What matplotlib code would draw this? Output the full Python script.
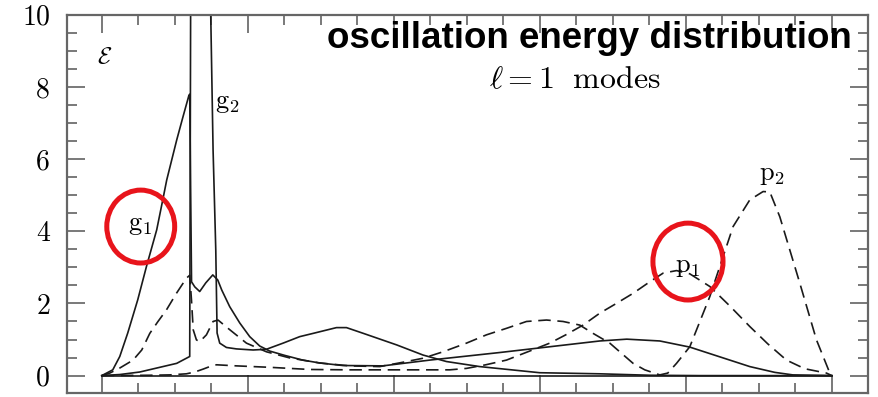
import matplotlib
matplotlib.use("Agg")
import matplotlib.pyplot as plt
from matplotlib.patches import Ellipse
from matplotlib.ticker import MultipleLocator

plt.rcParams['mathtext.fontset'] = 'cm'

# energy density curves, radius in units of R
g1_x = [0, 0.0151, 0.0247, 0.0356, 0.0493, 0.0612, 0.0753, 0.0836, 0.0890,
        0.1027, 0.1110, 0.1192, 0.1205, 0.1230, 0.1274, 0.1342, 0.1425,
        0.1521, 0.1589, 0.1644, 0.1753, 0.1890, 0.2027, 0.2164, 0.2301,
        0.2507, 0.2753, 0.2986, 0.3301, 0.3849, 0.4493, 0.5041, 0.5452,
        0.6137, 0.6822, 0.7192, 0.7644, 0.8055, 0.8466, 0.8877, 0.9219,
        0.9466, 1.0]
g1_e = [0, 0.16, 0.53, 1.18, 2.10, 3.02, 4.04, 4.87, 5.42,
        6.53, 7.15, 7.75, 7.80, 2.60, 2.46, 2.33, 2.57,
        2.79, 2.65, 2.37, 1.91, 1.46, 1.08, 0.82, 0.68,
        0.56, 0.43, 0.35, 0.28, 0.27, 0.43, 0.55, 0.64,
        0.80, 0.96, 1.01, 0.96, 0.79, 0.52, 0.25, 0.09,
        0.02, 0]

g2_x = [0, 0.0247, 0.0521, 0.0795, 0.1027, 0.1205, 0.1220, 0.1480, 0.1493,
        0.1525, 0.1562, 0.1580, 0.1616, 0.1708, 0.1845, 0.2073, 0.2256,
        0.2484, 0.2712, 0.2895, 0.3215, 0.3352, 0.3584, 0.4041, 0.4401,
        0.4722, 0.5178, 0.6000, 0.6822, 0.7507, 0.8192, 1.0]
g2_e = [0, 0.03, 0.10, 0.23, 0.34, 0.53, 12.0, 12.0, 10.0,
        6.25, 3.48, 1.18, 0.90, 0.78, 0.74, 0.71, 0.73,
        0.90, 1.08, 1.17, 1.33, 1.33, 1.17, 0.85, 0.57,
        0.39, 0.25, 0.08, 0.05, 0.01, 0, 0]

p2_x = [0, 0.011, 0.0247, 0.0429, 0.0548, 0.0658, 0.0767, 0.0886, 0.1023,
        0.1160, 0.1205, 0.1229, 0.1253, 0.1297, 0.1342, 0.1434, 0.1525,
        0.1593, 0.1730, 0.1982, 0.2256, 0.2575, 0.2986, 0.3397, 0.3808,
        0.4151, 0.4397, 0.4675, 0.4996, 0.5270, 0.5544, 0.5818, 0.6092,
        0.6319, 0.6548, 0.6730, 0.6959, 0.7278, 0.7438, 0.7644, 0.7753,
        0.7873, 0.8055, 0.8329, 0.8648, 0.8877, 0.9059, 0.9151, 0.9288,
        0.9562, 0.9790, 0.9973, 1.0]
p2_e = [0, 0.07, 0.21, 0.43, 0.71, 1.17, 1.49, 1.82, 2.28,
        2.70, 2.78, 2.10, 1.27, 0.99, 0.94, 1.13, 1.50,
        1.54, 1.31, 0.90, 0.66, 0.49, 0.35, 0.27, 0.25,
        0.38, 0.48, 0.66, 0.90, 1.13, 1.31, 1.50, 1.54,
        1.50, 1.40, 1.17, 0.90, 0.34, 0.16, 0.02, 0.07,
        0.34, 0.80, 2.19, 4.13, 4.87, 5.10, 5.09, 4.40,
        2.56, 0.99, 0.07, 0]

p1_x = [0, 0.0658, 0.0932, 0.1160, 0.1274, 0.1388, 0.1479, 0.1571, 0.1845,
        0.2301, 0.2849, 0.3397, 0.4082, 0.4767, 0.4996, 0.5260, 0.5544,
        0.5836, 0.6137, 0.6356, 0.6593, 0.6822, 0.7041, 0.7278, 0.7507,
        0.7690, 0.7873, 0.8055, 0.8329, 0.8603, 0.8877, 0.9123, 0.9379,
        0.9630, 0.9927, 1.0]
p1_e = [0, 0.01, 0.02, 0.05, 0.10, 0.18, 0.25, 0.30, 0.27,
        0.23, 0.17, 0.16, 0.16, 0.16, 0.20, 0.30, 0.43,
        0.66, 0.90, 1.13, 1.40, 1.73, 1.99, 2.28, 2.60,
        2.84, 2.91, 2.82, 2.47, 1.93, 1.36, 0.88, 0.43,
        0.19, 0.07, 0]

yticks = [0, 2, 4, 6, 8, 10]

fig = plt.figure(figsize=(8.79, 3.97), dpi=100)
ax = fig.add_axes([66.7 / 879, 1 - 393.3 / 397, 801.6 / 879, 378.6 / 397])

ink = '#1a1a1a'
ax.plot([0, 1], [0, 0], color=ink, lw=1.2)
ax.plot(g1_x, g1_e, color=ink, lw=1.2)
ax.plot(g2_x, g2_e, color=ink, lw=1.2)
ax.plot(p1_x, p1_e, color=ink, lw=1.2, dashes=(7.5, 4))
ax.plot(p2_x, p2_e, color=ink, lw=1.2, dashes=(7.5, 4))

ax.set_xlim(-0.048, 1.05)
ax.set_ylim(-0.49, 10)

ax.xaxis.set_major_locator(MultipleLocator(0.2))
ax.xaxis.set_minor_locator(MultipleLocator(0.05))
ax.set_yticks(yticks)
ax.set_yticklabels([str(v) for v in yticks], fontfamily='cmr10', fontsize=20)
ax.yaxis.set_minor_locator(MultipleLocator(0.5))
ax.set_xticklabels([])
ax.tick_params(which='both', direction='in', top=True, right=True,
               color='#555555', width=1.1)
ax.tick_params(which='major', length=13, pad=12)
ax.tick_params(which='minor', length=7)
for s in ax.spines.values():
    s.set_color('#666666')
    s.set_linewidth(1.6)

# curve labels
ax.text(0.004, 8.86, r'$\mathcal{E}$', fontsize=17, ha='center', va='center')
ax.text(0.0356, 4.04, r'$\mathrm{g}_1$', fontsize=19, va='baseline')
ax.text(0.1548, 7.42, r'$\mathrm{g}_2$', fontsize=19, va='baseline')
ax.text(0.785, 2.88, r'$\mathrm{p}_1$', fontsize=19, va='baseline')
ax.text(0.900, 5.42, r'$\mathrm{p}_2$', fontsize=19, va='baseline')

fig.text(852 / 879, 1 - 48.3 / 397, 'oscillation energy distribution',
         fontfamily='Liberation Sans', fontweight='bold', fontsize=26.5,
         ha='right', va='baseline')
fig.text(575 / 879, 1 - 88 / 397, r'$\ell=1\ \ \mathrm{modes}$',
         fontsize=23, ha='center', va='baseline')

# highlight rings around g1 and p1
for cx, cy, w, h in [(0.0534, 4.13, 0.093, 2.02), (0.803, 3.16, 0.096, 2.13)]:
    ax.add_patch(Ellipse((cx, cy), w, h, fill=False, edgecolor='#e8141b',
                         lw=3.6, clip_on=False, zorder=5))

fig.savefig('out.png', dpi=100)
